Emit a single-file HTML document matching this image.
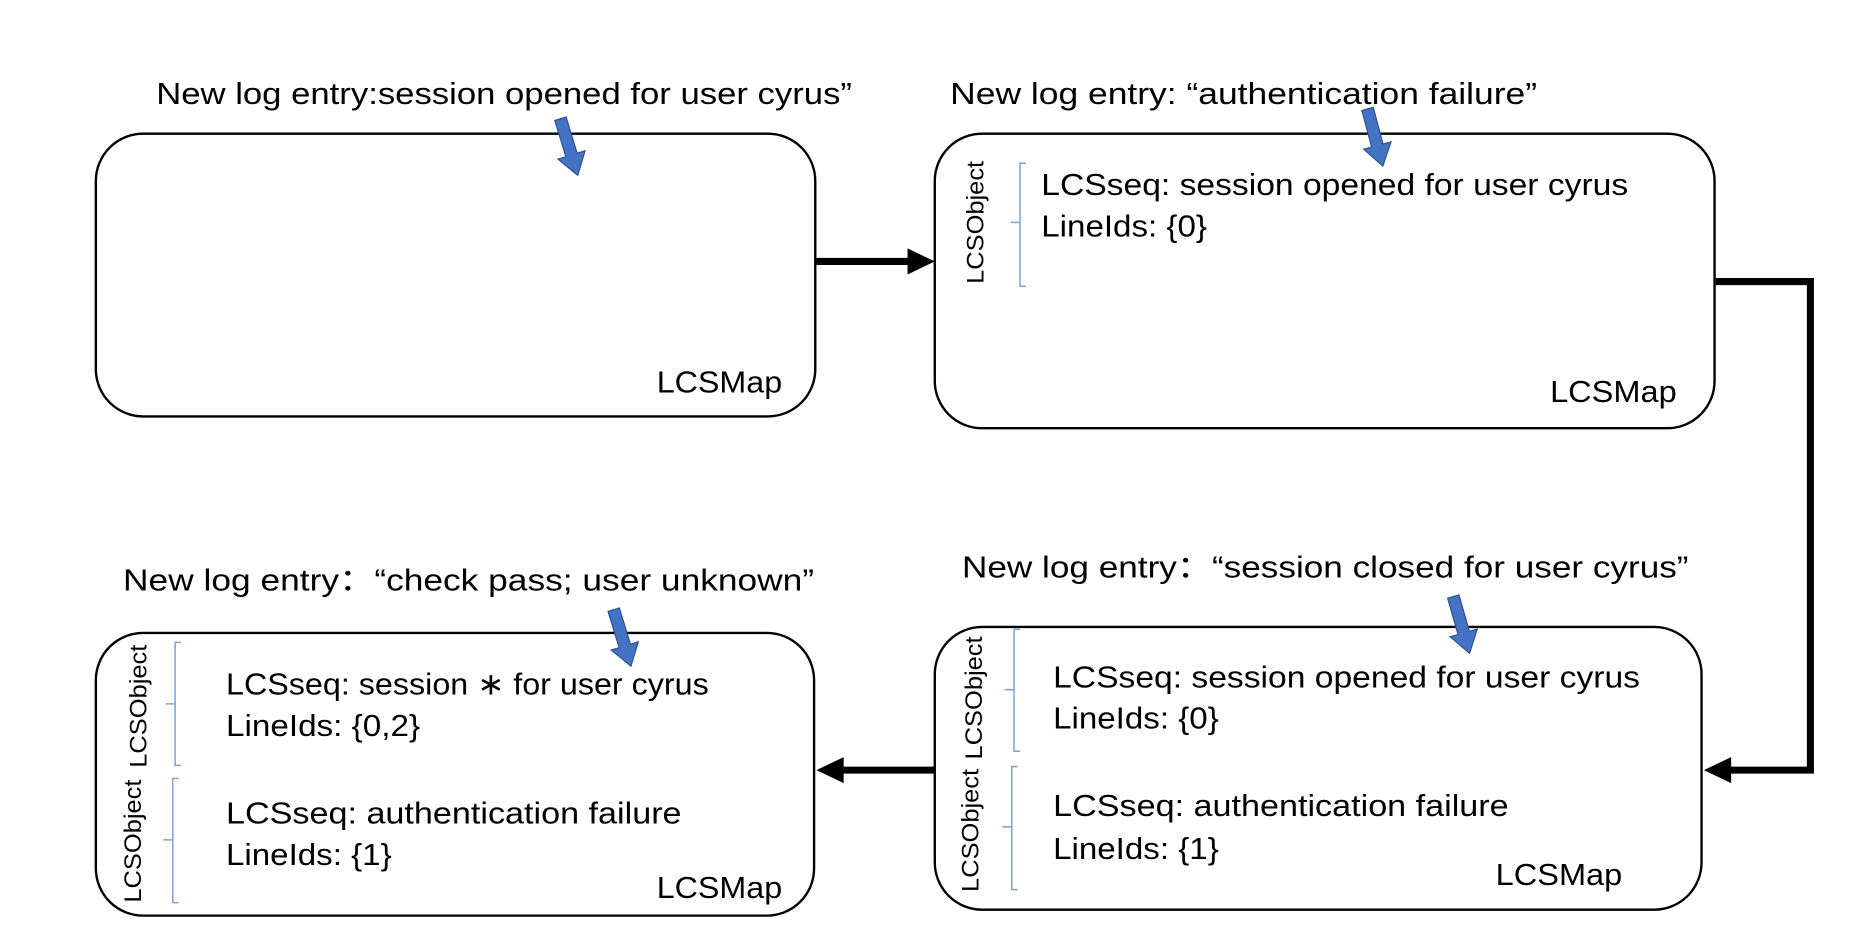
<!DOCTYPE html>
<html><head><meta charset="utf-8"><style>
html,body{margin:0;padding:0;background:#fff;}
svg{display:block}
text{font-family:"Liberation Sans","Noto Sans CJK SC",sans-serif;fill:#000}
</style></head><body>
<svg width="1853" height="931" viewBox="0 0 1566 787" preserveAspectRatio="none" xmlns="http://www.w3.org/2000/svg">
<defs>
<g id="ba"><polygon points="-5,-32 5,-32 5,0 12,0 0,18 -12,0 -5,0" fill="#4472C4" stroke="#2F528F" stroke-width="1"/></g>
</defs>
<rect x="81" y="113" width="608" height="239" rx="40" fill="none" stroke="#000" stroke-width="2"/>
<rect x="790" y="113" width="659" height="249" rx="40" fill="none" stroke="#000" stroke-width="2"/>
<rect x="81" y="535" width="607" height="239" rx="40" fill="none" stroke="#000" stroke-width="2"/>
<rect x="790" y="530" width="648" height="239" rx="40" fill="none" stroke="#000" stroke-width="2"/>
<line x1="690" y1="221" x2="770" y2="221" stroke="#000" stroke-width="6"/>
<polygon points="767,210 790,221 767,232" fill="#000"/>
<polyline points="1450,238 1530,238 1530,651 1460,651" fill="none" stroke="#000" stroke-width="6"/>
<polygon points="1463,640 1440,651 1463,662" fill="#000"/>
<line x1="790" y1="651" x2="710" y2="651" stroke="#000" stroke-width="6"/>
<polygon points="713,640 690,651 713,662" fill="#000"/>
<text x="132" y="88" font-size="26" textLength="588" lengthAdjust="spacingAndGlyphs">New log entry:session opened for user cyrus”</text>
<text x="803" y="88" font-size="26" textLength="496" lengthAdjust="spacingAndGlyphs">New log entry: “authentication failure”</text>
<text x="104" y="499" font-size="26" textLength="584" lengthAdjust="spacingAndGlyphs">New log entry：“check pass; user unknown”</text>
<text x="813" y="488" font-size="26" textLength="614" lengthAdjust="spacingAndGlyphs">New log entry：“session closed for user cyrus”</text>
<use href="#ba" transform="translate(483,131) rotate(-17)"/>
<use href="#ba" transform="translate(1164,123) rotate(-15)"/>
<use href="#ba" transform="translate(528,546) rotate(-17)"/>
<use href="#ba" transform="translate(1237,535) rotate(-16)"/>
<text x="555" y="332" font-size="26" textLength="106" lengthAdjust="spacingAndGlyphs">LCSMap</text>
<text transform="translate(831,188) rotate(-90)" text-anchor="middle" font-size="20" textLength="104" lengthAdjust="spacingAndGlyphs">LCSObject</text>
<path d="M867,138 H862 V242 H867 M862,188 H854" fill="none" stroke="#7FA2DC" stroke-width="1.3"/>
<text x="880" y="165" font-size="26" textLength="496" lengthAdjust="spacingAndGlyphs">LCSseq: session opened for user cyrus</text>
<text x="880" y="200" font-size="26" textLength="140" lengthAdjust="spacingAndGlyphs">LineIds: {0}</text>
<text x="1310" y="340" font-size="26" textLength="107" lengthAdjust="spacingAndGlyphs">LCSMap</text>
<text transform="translate(124,597) rotate(-90)" text-anchor="middle" font-size="20" textLength="104" lengthAdjust="spacingAndGlyphs">LCSObject</text>
<path d="M153,543 H148 V647 H153 M148,595 H140" fill="none" stroke="#7FA2DC" stroke-width="1.3"/>
<text x="191" y="587" font-size="26" textLength="408" lengthAdjust="spacingAndGlyphs">LCSseq: session ∗ for user cyrus</text>
<text x="191" y="622" font-size="26" textLength="164" lengthAdjust="spacingAndGlyphs">LineIds: {0,2}</text>
<text transform="translate(119,711) rotate(-90)" text-anchor="middle" font-size="20" textLength="104" lengthAdjust="spacingAndGlyphs">LCSObject</text>
<path d="M151,658 H146 V763 H151 M146,710 H138" fill="none" stroke="#7FA2DC" stroke-width="1.3"/>
<text x="191" y="696" font-size="26" textLength="385" lengthAdjust="spacingAndGlyphs">LCSseq: authentication failure</text>
<text x="191" y="731" font-size="26" textLength="140" lengthAdjust="spacingAndGlyphs">LineIds: {1}</text>
<text x="555" y="759" font-size="26" textLength="106" lengthAdjust="spacingAndGlyphs">LCSMap</text>
<text transform="translate(830,590) rotate(-90)" text-anchor="middle" font-size="20" textLength="104" lengthAdjust="spacingAndGlyphs">LCSObject</text>
<path d="M862,532 H857 V635 H862 M857,583 H849" fill="none" stroke="#7FA2DC" stroke-width="1.3"/>
<text x="890" y="581" font-size="26" textLength="496" lengthAdjust="spacingAndGlyphs">LCSseq: session opened for user cyrus</text>
<text x="890" y="616" font-size="26" textLength="140" lengthAdjust="spacingAndGlyphs">LineIds: {0}</text>
<text transform="translate(827,702) rotate(-90)" text-anchor="middle" font-size="20" textLength="104" lengthAdjust="spacingAndGlyphs">LCSObject</text>
<path d="M860,648 H855 V752 H860 M855,699 H847" fill="none" stroke="#7FA2DC" stroke-width="1.3"/>
<text x="890" y="690" font-size="26" textLength="385" lengthAdjust="spacingAndGlyphs">LCSseq: authentication failure</text>
<text x="890" y="726" font-size="26" textLength="140" lengthAdjust="spacingAndGlyphs">LineIds: {1}</text>
<text x="1264" y="748" font-size="26" textLength="107" lengthAdjust="spacingAndGlyphs">LCSMap</text>
</svg>
</body></html>
